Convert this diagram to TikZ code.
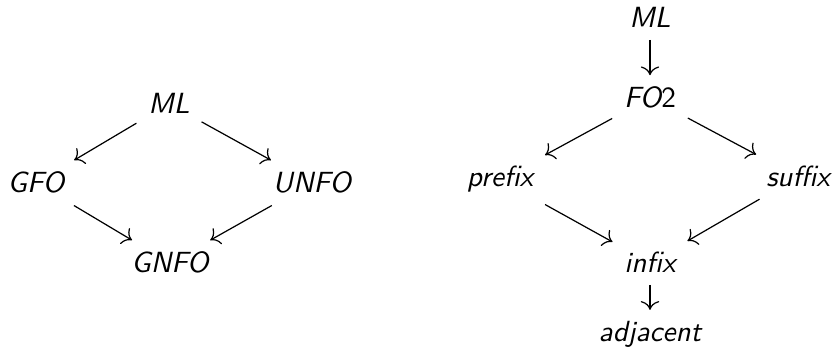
\documentclass[tikz,border=0pt]{standalone}
\usetikzlibrary{arrows.meta}
\begin{document}
% unit u: coordinates below are given in u; labels are set near 11pt
\begin{tikzpicture}[x=0.37pt,y=-0.37pt,
  lbl/.style={anchor=base,inner sep=4.2pt,font=\fontsize{10.8}{13}\selectfont\sffamily\itshape},
  imp/.style={-{To[scale=1.25]},line width=0.45pt}]
\useasboundingbox (0,0) rectangle (832,358);
% left lattice
\node[lbl] (ml1)   at (169,114) {ML};
\node[lbl] (gfo)   at (36,193)  {GFO};
\node[lbl] (unfo)  at (312,193) {UNFO};
\node[lbl] (gnfo)  at (170,273) {GNFO};
\draw[imp] (ml1) -- (gfo);
\draw[imp] (ml1) -- (unfo);
\draw[imp] (gfo) -- (gnfo);
\draw[imp] (unfo) -- (gnfo);
% right lattice
\node[lbl] (ml2)   at (650,28)  {ML};
\node[lbl] (fo2)   at (650,108) {FO{\upshape 2}};
\node[lbl] (pre)   at (500,187) {prefix};
\node[lbl] (suf)   at (798,187) {suffix};
\node[lbl] (inf)   at (650,273) {infix};
\node[lbl] (adj)   at (650,342) {adjacent};
\draw[imp] (ml2) -- (fo2);
\draw[imp] (fo2) -- (pre);
\draw[imp] (fo2) -- (suf);
\draw[imp] (pre) -- (inf);
\draw[imp] (suf) -- (inf);
\draw[imp] (inf) -- (adj);
\end{tikzpicture}
\end{document}
